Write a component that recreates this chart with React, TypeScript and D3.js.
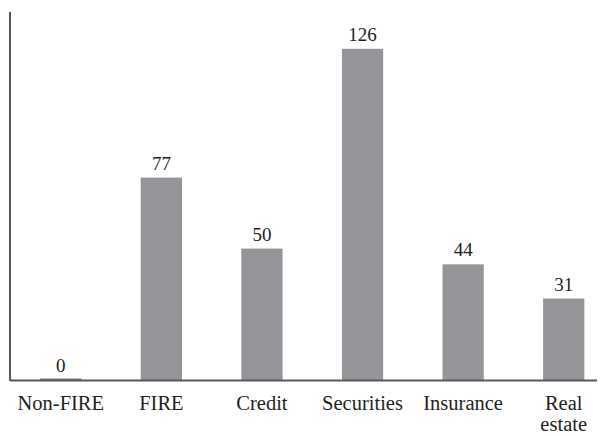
import React from "react";
import * as d3 from "d3";

const categories: string[][] = [["Non-FIRE"], ["FIRE"], ["Credit"], ["Securities"], ["Insurance"], ["Real", "estate"]];
const values: number[] = [0, 77, 50, 126, 44, 31];
const yMax = 140;

export default function App() {
  const W = 607, H = 436;
  const x0 = 10, yBase = 380, yTop = 12, xEnd = 597;
  const keys = categories.map((c) => c.join(" "));
  const x = d3.scaleBand<string>().domain(keys).range([10.5, 614]).paddingInner(0.59).paddingOuter(0.295);
  const y = d3.scaleLinear().domain([0, yMax]).range([yBase, yTop]);
  const font = "'Liberation Serif', 'Times New Roman', serif";
  return (
    <svg width={W} height={H} style={{ position: "absolute", left: 0, top: 0, background: "#fff" }}>
      {values.map((v, i) => {
        const k = keys[i];
        const top = y(v);
        const h = Math.max(1.5, yBase - top);
        return (
          <g key={k}>
            <rect x={x(k)} y={yBase - h} width={x.bandwidth()} height={h} fill={v === 0 ? "#7a7a7c" : "#939598"} />
            <text x={(x(k) as number) + x.bandwidth() / 2} y={top - 8} textAnchor="middle" fontFamily={font} fontSize={19} fill="#231f20">
              {v}
            </text>
          </g>
        );
      })}
      <line x1={x0} x2={x0} y1={yTop} y2={yBase + 1} stroke="#58595b" strokeWidth={2} />
      <line x1={x0} x2={xEnd} y1={yBase + 0.5} y2={yBase + 0.5} stroke="#58595b" strokeWidth={2} />
      {categories.map((lines, i) => {
        const k = keys[i];
        const cx = (x(k) as number) + x.bandwidth() / 2;
        return (
          <text key={k} x={cx} y={410} textAnchor="middle" fontFamily={font} fontSize={20.5} fill="#231f20">
            {lines.map((l, j) => (
              <tspan key={j} x={cx} dy={j === 0 ? 0 : 21}>{l}</tspan>
            ))}
          </text>
        );
      })}
    </svg>
  );
}
